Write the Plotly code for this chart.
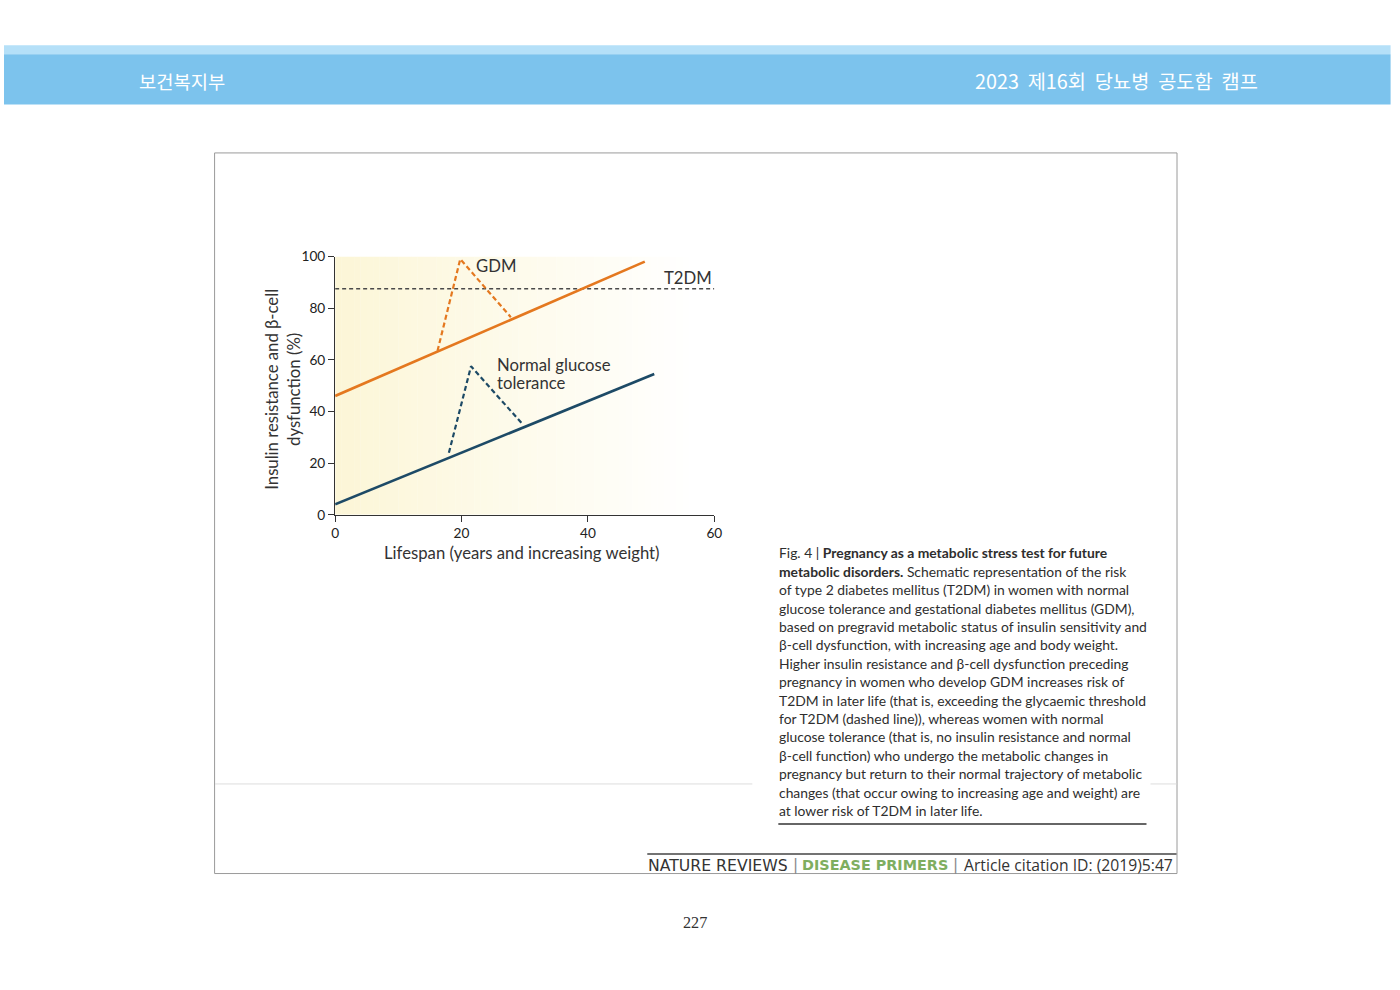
import plotly.graph_objects as go

# ---------------- data ----------------
gdm_base_x = [0, 49]
gdm_base_y = [46, 98]
gdm_preg_x = [16.2, 19.8, 27.8]
gdm_preg_y = [63.5, 99, 76.5]
ngt_base_x = [0, 50.5]
ngt_base_y = [4, 54.5]
ngt_preg_x = [18.0, 21.5, 29.5]
ngt_preg_y = [24, 57.5, 35.5]
t2dm_x = [0, 60]
t2dm_y = [87.5, 87.5]

x_ticks = [0, 20, 40, 60]
y_ticks = [0, 20, 40, 60, 80, 100]

header_left = "보건복지부"
header_right = "2023 제16회 당뇨병 공도함 캠프"
x_title = "Lifespan (years and increasing weight)"
y_title = "Insulin resistance and β-cell<br>dysfunction (%)"
label_gdm = "GDM"
label_t2dm = "T2DM"
label_ngt_lines = ["Normal glucose", "tolerance"]

caption_lines = [
    "Fig. 4 | <b>Pregnancy as a metabolic stress test for future</b>",
    "<b>metabolic disorders.</b> Schematic representation of the risk",
    "of type 2 diabetes mellitus (T2DM) in women with normal",
    "glucose tolerance and gestational diabetes mellitus (GDM),",
    "based on pregravid metabolic status of insulin sensitivity and",
    "β-cell dysfunction, with increasing age and body weight.",
    "Higher insulin resistance and β-cell dysfunction preceding",
    "pregnancy in women who develop GDM increases risk of",
    "T2DM in later life (that is, exceeding the glycaemic threshold",
    "for T2DM (dashed line)), whereas women with normal",
    "glucose tolerance (that is, no insulin resistance and normal",
    "β-cell function) who undergo the metabolic changes in",
    "pregnancy but return to their normal trajectory of metabolic",
    "changes (that occur owing to increasing age and weight) are",
    "at lower risk of T2DM in later life.",
]
footer_parts = ["NATURE REVIEWS", "DISEASE PRIMERS", "Article citation ID: (2019)5:47"]
page_number = "227"

# ---------------- helpers ----------------
W, H = 1400, 990
# compensation for the small offset/scale seen in the captured page
AX, SX = 4.0, 0.991
AY, SY = 7.7, 0.983
FS = 1 / 0.987
def px(x):
    return ((x - AX) / SX) / W
def py(y):
    return 1 - ((y - AY) / SY) / H
def fs(s):
    return s * FS

ORANGE = "#e4781f"
NAVY = "#1d4a66"
TEXT = "#333333"

fig = go.Figure()

fig.add_trace(go.Scatter(x=t2dm_x, y=t2dm_y, mode="lines",
                         line=dict(color="#4a4a4a", width=1.4, dash="4px,3px"), hoverinfo="skip"))
fig.add_trace(go.Scatter(x=gdm_preg_x, y=gdm_preg_y, mode="lines",
                         line=dict(color=ORANGE, width=2.2, dash="5px,3px"), hoverinfo="skip"))
fig.add_trace(go.Scatter(x=gdm_base_x, y=gdm_base_y, mode="lines",
                         line=dict(color=ORANGE, width=2.6), hoverinfo="skip"))
fig.add_trace(go.Scatter(x=ngt_preg_x, y=ngt_preg_y, mode="lines",
                         line=dict(color=NAVY, width=2.2, dash="5px,3px"), hoverinfo="skip"))
fig.add_trace(go.Scatter(x=ngt_base_x, y=ngt_base_y, mode="lines",
                         line=dict(color=NAVY, width=2.6), hoverinfo="skip"))

shapes = []
# gradient plot background (decoration)
n = 60
c0 = (252, 246, 215)
for i in range(n):
    t = i / (n - 1)
    f = min(1.0, t * 1.05)
    col = tuple(int(round(c0[k] + (255 - c0[k]) * f)) for k in range(3))
    shapes.append(dict(type="rect", xref="x", yref="y", x0=60 * i / n, x1=60 * (i + 1) / n + 0.05,
                       y0=0, y1=100, fillcolor="rgb(%d,%d,%d)" % col, line=dict(width=0), layer="below"))

# header bands
shapes.append(dict(type="rect", xref="paper", yref="paper", x0=0, x1=px(1390), y0=py(54), y1=py(45),
                   fillcolor="#b5e0f8", line=dict(width=0)))
shapes.append(dict(type="rect", xref="paper", yref="paper", x0=0, x1=px(1390), y0=py(104), y1=py(54),
                   fillcolor="#7cc3ed", line=dict(width=0)))
# page frame
shapes.append(dict(type="rect", xref="paper", yref="paper", x0=px(214.5), x1=px(1176.5), y0=py(872.5), y1=py(152.5),
                   fillcolor="rgba(0,0,0,0)", line=dict(color="#9a9a9a", width=1)))
# faint line across page
shapes.append(dict(type="line", xref="paper", yref="paper", x0=px(215), x1=px(752), y0=py(783), y1=py(783),
                   line=dict(color="#dddddd", width=1)))
shapes.append(dict(type="line", xref="paper", yref="paper", x0=px(1150), x1=px(1176), y0=py(783), y1=py(783),
                   line=dict(color="#dddddd", width=1)))
# caption underline
shapes.append(dict(type="line", xref="paper", yref="paper", x0=px(778), x1=px(1146), y0=py(823), y1=py(823),
                   line=dict(color="#333333", width=1.5)))
# footer top line
shapes.append(dict(type="line", xref="paper", yref="paper", x0=px(647), x1=px(1176), y0=py(853), y1=py(853),
                   line=dict(color="#444444", width=1.5)))

ann = []
ann.append(dict(text=header_left, x=px(137), y=py(80), xref="paper", yref="paper", xanchor="left", yanchor="middle",
                showarrow=False, font=dict(family="Noto Sans CJK KR", size=fs(18.5), color="white")))
ann.append(dict(text=header_right.replace(" ", "  "), x=px(1259), y=py(80), xref="paper", yref="paper",
                xanchor="right", yanchor="middle",
                showarrow=False, font=dict(family="Noto Sans CJK KR", size=fs(19.5), color="white")))
# chart labels
ann.append(dict(text=label_gdm, x=22.0, y=96.5, xref="x", yref="y", xanchor="left", yanchor="middle",
                showarrow=False, font=dict(family="Lato", size=fs(16.5), color=TEXT)))
ann.append(dict(text=label_t2dm, x=60, y=91.5, xref="x", yref="y", xanchor="right", yanchor="middle",
                showarrow=False, font=dict(family="Lato", size=fs(16.5), color=TEXT)))
for j, (txt, yy) in enumerate(zip(label_ngt_lines, [58.0, 51.0])):
    ann.append(dict(text=txt, x=25.3, y=yy, xref="x", yref="y", xanchor="left", yanchor="middle",
                    showarrow=False, font=dict(family="Lato", size=fs(16.5), color=TEXT)))
# axis titles
ann.append(dict(text=x_title, x=px(522), y=py(552), xref="paper", yref="paper", xanchor="center", yanchor="middle",
                showarrow=False, font=dict(family="Lato", size=fs(16.5), color=TEXT)))
ann.append(dict(text=y_title, x=px(283), y=py(389), xref="paper", yref="paper", xanchor="center", yanchor="middle",
                textangle=-90, showarrow=False, font=dict(family="Lato", size=fs(16.5), color=TEXT)))
# caption
for i, line in enumerate(caption_lines):
    ann.append(dict(text=line, x=px(777), y=py(552 + i * 18.4), xref="paper", yref="paper",
                    xanchor="left", yanchor="middle", showarrow=False,
                    font=dict(family="Lato", size=fs(13.7), color="#2e2e2e")))
# footer
ann.append(dict(text=footer_parts[0], x=px(646), y=py(864), xref="paper", yref="paper", xanchor="left",
                yanchor="middle", showarrow=False, font=dict(family="DejaVu Sans", size=fs(15.5), color="#333333")))
ann.append(dict(text="|", x=px(795), y=py(864), xref="paper", yref="paper", xanchor="center",
                yanchor="middle", showarrow=False, font=dict(family="DejaVu Sans", size=fs(15), color="#8a8a8a")))
ann.append(dict(text="<b>" + footer_parts[1] + "</b>", x=px(800), y=py(864), xref="paper", yref="paper",
                xanchor="left", yanchor="middle", showarrow=False,
                font=dict(family="DejaVu Sans", size=fs(14.2), color="#7fae60")))
ann.append(dict(text="|", x=px(955), y=py(864), xref="paper", yref="paper", xanchor="center",
                yanchor="middle", showarrow=False, font=dict(family="DejaVu Sans", size=fs(15), color="#8a8a8a")))
ann.append(dict(text=footer_parts[2], x=px(1174), y=py(864), xref="paper", yref="paper", xanchor="right",
                yanchor="middle", showarrow=False, font=dict(family="Open Sans", size=fs(15.5), color="#333333")))
ann.append(dict(text=page_number, x=px(695), y=py(922), xref="paper", yref="paper", xanchor="center", yanchor="middle",
                showarrow=False, font=dict(family="Liberation Serif", size=fs(16), color="#333333")))

axis_common = dict(showgrid=False, zeroline=False, showline=True, linecolor="#333333", linewidth=1.3,
                   ticks="outside", ticklen=6, tickwidth=1.3, tickcolor="#333333",
                   tickfont=dict(family="Lato", size=fs(13.5), color="#222222"))

fig.update_layout(
    width=W, height=H, margin=dict(l=0, r=0, t=0, b=0),
    paper_bgcolor="white", plot_bgcolor="white", showlegend=False,
    xaxis=dict(domain=[px(335), px(714)], range=[0, 60], tickvals=x_ticks, **axis_common),
    yaxis=dict(domain=[py(514), py(256)], range=[0, 100], tickvals=y_ticks, **axis_common),
    shapes=shapes, annotations=ann,
)

fig.write_html("out.html")
